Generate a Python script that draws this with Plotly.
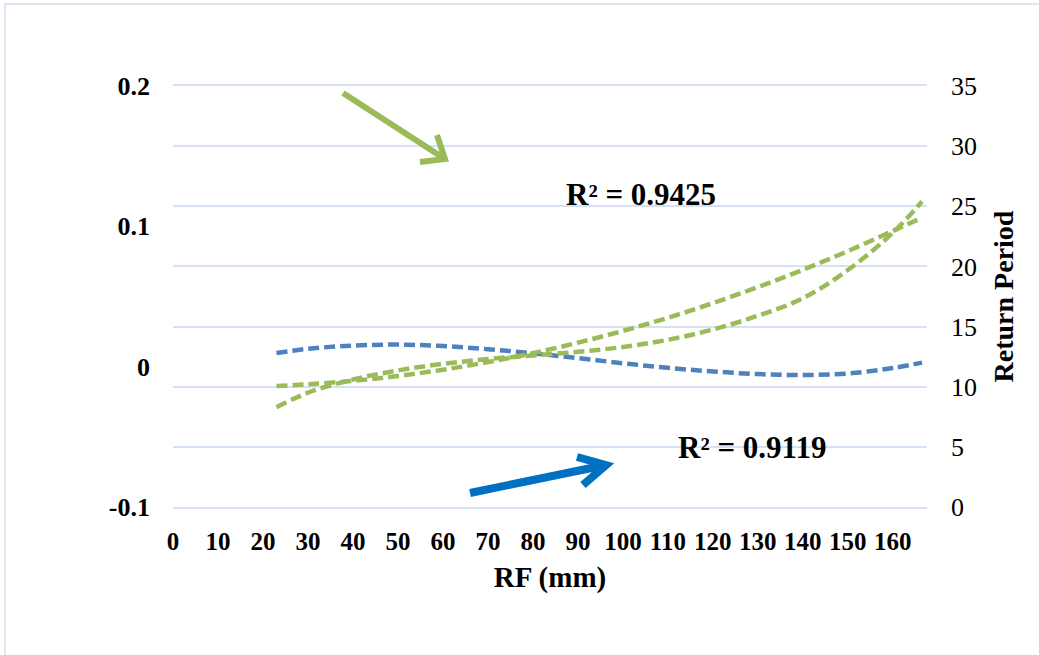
import plotly.graph_objects as go

# ---------------- data ----------------
rf = [23, 30, 40, 50, 60, 70, 80, 90, 100, 110, 120, 130, 140, 150, 160, 166.5]
rp_blue = [12.8, 13.15, 13.42, 13.5, 13.38, 13.12, 12.78, 12.38, 11.95, 11.57,
           11.27, 11.05, 10.97, 11.1, 11.55, 12.0]
rp_green_quad = [10.06, 10.2, 10.49, 10.89, 11.41, 12.05, 12.79, 13.66, 14.64,
                 15.73, 16.95, 18.28, 19.72, 21.27, 22.95, 24.05]
rp_green_cubic = [8.3, 9.5, 10.6, 11.35, 11.9, 12.3, 12.6, 12.9, 13.3, 13.9,
                  14.75, 15.9, 17.35, 19.7, 22.8, 25.4]

x_ticks = list(range(0, 161, 10))
left_tick_vals = [-0.1, 0, 0.1, 0.2]
left_tick_text = ["-0.1", "0", "0.1", "0.2"]
right_ticks = list(range(0, 36, 5))
r2_labels = ["R² = 0.9425", "R² = 0.9119"]

# ---------------- styles ----------------
BLUE = "#4F81BD"
GREEN = "#9BBB59"
GRID = "#D6E2F2"
FONT = "Liberation Serif, Times New Roman, serif"

W, H = 1039, 655
ML, MR, MT, MB = 173, 112, 86, 148
X_RANGE = [0, 167.6]
Y_RANGE = [0, 35]
PW, PH = W - ML - MR, H - MT - MB


def px2data(px, py):
    x = X_RANGE[0] + (px - ML) / PW * (X_RANGE[1] - X_RANGE[0])
    y = Y_RANGE[1] - (py - MT) / PH * (Y_RANGE[1] - Y_RANGE[0])
    return x, y


def px2paper(px, py):
    return (px - ML) / PW, (H - MB - py) / PH


def arrow_path(tail, tip, arm1, arm2):
    pts = [px2data(*p) for p in (tail, tip, arm1, arm2)]
    (tx, ty), (hx, hy), (a1x, a1y), (a2x, a2y) = pts
    return (f"M {tx} {ty} L {hx} {hy} M {a1x} {a1y} L {hx} {hy} L {a2x} {a2y}")


fig = go.Figure()

dash = dict(width=4.5, dash="11px,5px")
fig.add_trace(go.Scatter(x=rf, y=rp_blue, mode="lines", line_shape="spline",
                         line=dict(color=BLUE, **dash),
                         yaxis="y", showlegend=False, hoverinfo="skip"))
fig.add_trace(go.Scatter(x=rf, y=rp_green_quad, mode="lines", line_shape="spline",
                         line=dict(color=GREEN, **dash),
                         yaxis="y", showlegend=False, hoverinfo="skip"))
fig.add_trace(go.Scatter(x=rf, y=rp_green_cubic, mode="lines", line_shape="spline",
                         line=dict(color=GREEN, **dash),
                         yaxis="y", showlegend=False, hoverinfo="skip"))
# dummy trace for left axis
fig.add_trace(go.Scatter(x=[None], y=[None], yaxis="y2", showlegend=False,
                         hoverinfo="skip"))

bx0, by1 = px2paper(5, 4)
bx1, by0 = px2paper(W + 30, H + 30)
shapes = [
    # outer chart border (right and bottom edges fall outside the page)
    dict(type="rect", xref="paper", yref="paper",
         x0=bx0, x1=bx1, y0=by0, y1=by1,
         line=dict(color="#D3DEEE", width=1.5), fillcolor="rgba(0,0,0,0)",
         layer="below"),
    # green arrow
    dict(type="path", xref="x", yref="y",
         path=arrow_path((343, 93), (445, 159), (437, 135), (420, 162)),
         line=dict(color=GREEN, width=6)),
    # blue arrow
    dict(type="path", xref="x", yref="y",
         path=arrow_path((470, 493), (606, 465), (577, 457), (583, 485)),
         line=dict(color="#0070C0", width=8)),
]

r2_pos = [px2data(641, 194), px2data(752, 447)]
annotations = [
    dict(x=p[0], y=p[1], xref="x", yref="y", text=t, showarrow=False,
         font=dict(family=FONT, size=31, color="black", weight="bold"),
         xanchor="center", yanchor="middle")
    for t, p in zip(r2_labels, r2_pos)
]

fig.update_layout(
    width=W, height=H,
    margin=dict(l=ML, r=MR, t=MT, b=MB),
    paper_bgcolor="white", plot_bgcolor="white",
    showlegend=False,
    font=dict(family=FONT, color="black"),
    xaxis=dict(range=X_RANGE, tickvals=x_ticks, showgrid=False, zeroline=False,
               showline=True, mirror=True, linecolor=GRID, linewidth=1.5,
               ticks="", ticklabelstandoff=11,
               tickfont=dict(family=FONT, size=25, weight="bold"),
               title=dict(text="RF (mm)", standoff=13,
                          font=dict(family=FONT, size=29, weight="bold"))),
    yaxis=dict(range=Y_RANGE, tickvals=right_ticks, side="right",
               showgrid=True, gridcolor=GRID, gridwidth=1.5, zeroline=False,
               showline=False, ticks="", ticklabelstandoff=23,
               tickfont=dict(family=FONT, size=26),
               title=dict(text="Return Period", standoff=17,
                          font=dict(family=FONT, size=28, weight="bold"))),
    yaxis2=dict(range=[-0.1, 0.2], overlaying="y", side="left",
                tickvals=left_tick_vals, ticktext=left_tick_text,
                showgrid=False, zeroline=False, showline=False, ticks="",
                ticklabelstandoff=22,
                tickfont=dict(family=FONT, size=26, weight="bold")),
    shapes=shapes,
    annotations=annotations,
)

fig.write_html("out.html",
               config={"displayModeBar": False},
               post_script="document.body.style.margin='0';"
                           "document.body.style.overflow='hidden';")
